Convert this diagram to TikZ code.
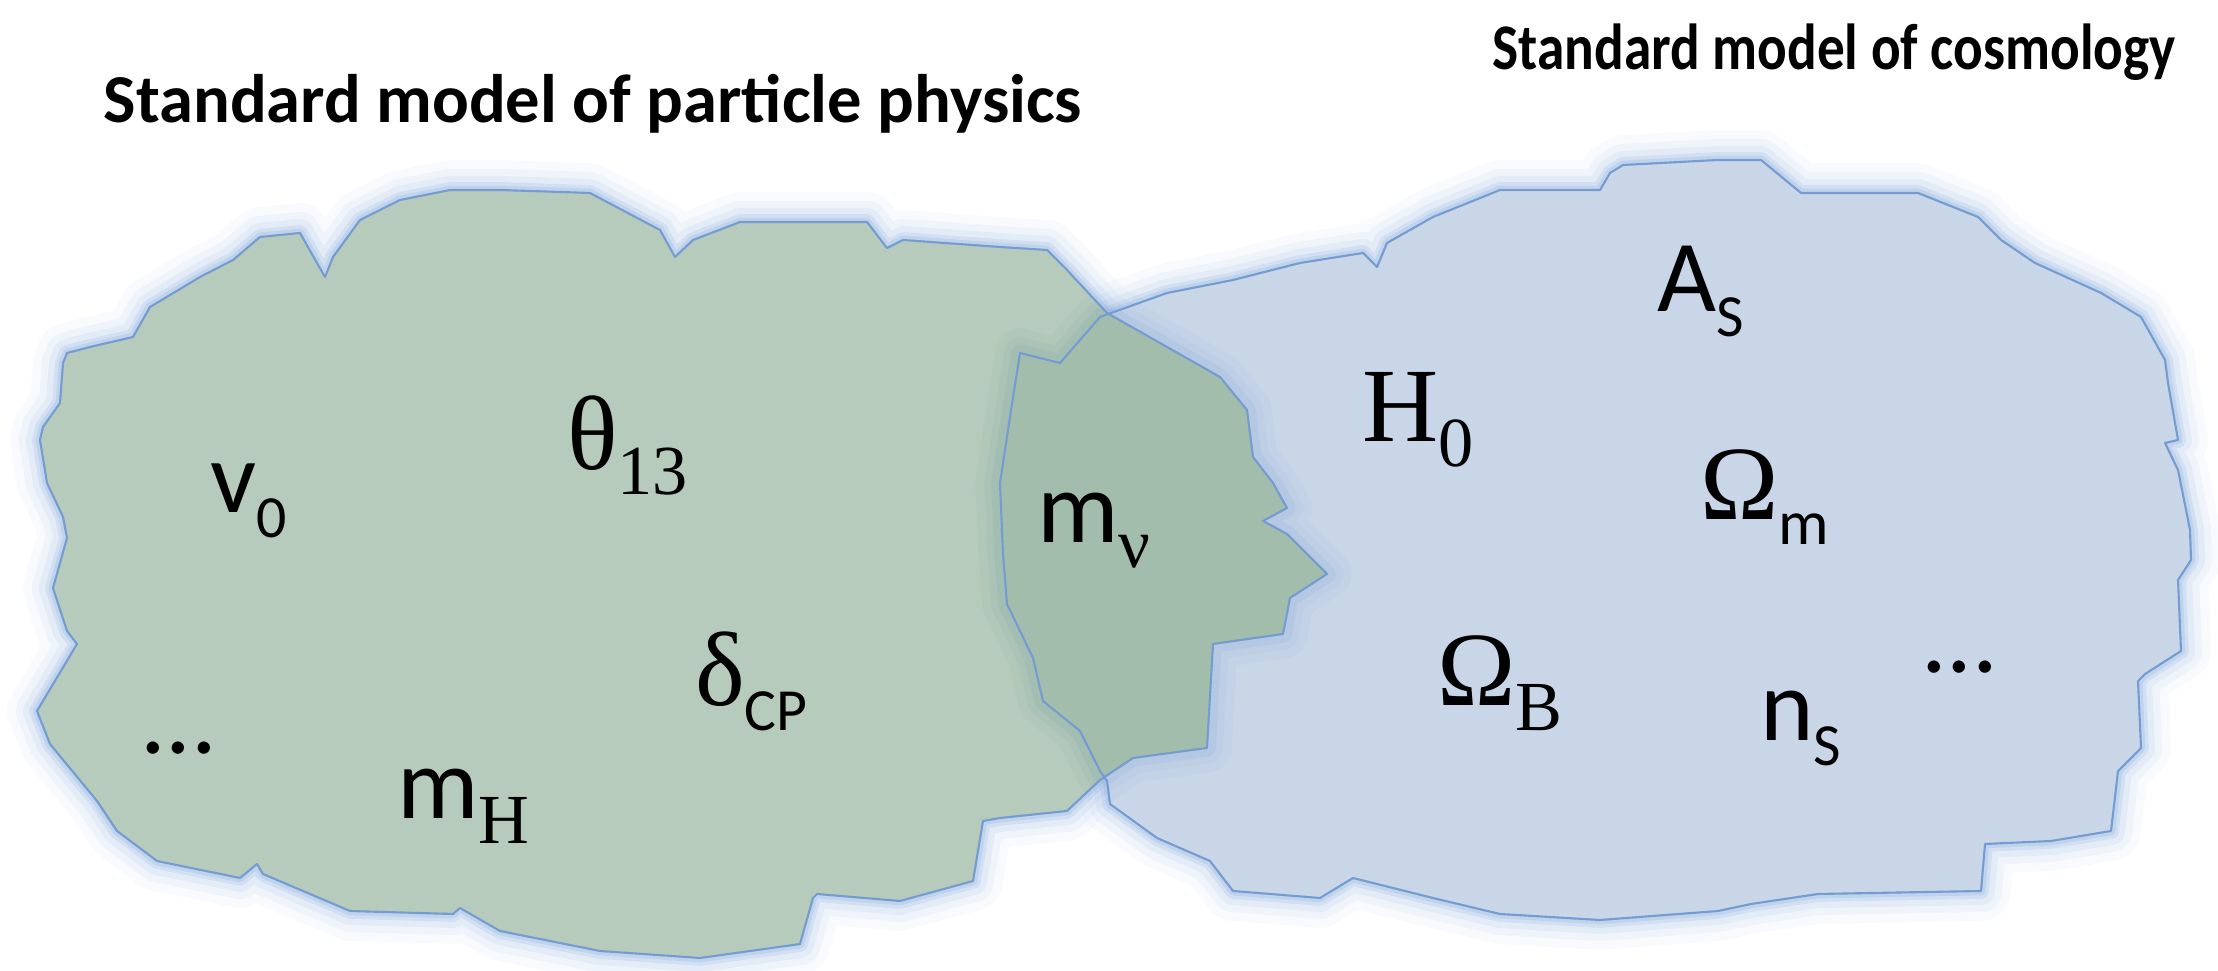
\documentclass[tikz,border=0pt]{standalone}
\usepackage{fontspec}
\usetikzlibrary{positioning}
\newfontfamily\calibfont{Carlito}
\newfontfamily\timesfont{Liberation Serif}

\definecolor{particlegreen}{RGB}{182,203,188}
\definecolor{overlapgreen}{RGB}{162,189,172}
\definecolor{cosmoblue}{RGB}{201,214,232}
\definecolor{rimblue}{RGB}{116,156,208}
\definecolor{glowblue}{RGB}{120,160,215}
\definecolor{shadegreen}{RGB}{105,150,150}

% outlines of the two clouds (pixel grid, y downwards)
\newcommand{\greenblob}{(63,363) -- (67,353) -- (90,347) -- (133,337) -- (150,307) -- (200,277) -- (233,260) -- (260,237) -- (300,233) -- (325,277) -- (333,257) -- (360,220) -- (400,200) -- (450,190) -- (500,190) -- (590,193) -- (660,230) -- (675,257) -- (693,240) -- (740,222) -- (867,222) -- (887,248) -- (903,240) -- (1000,247) -- (1047,250) -- (1067,270) -- (1107,313) -- (1167,347) -- (1220,377) -- (1247,410) -- (1253,457) -- (1273,483) -- (1287,508) -- (1263,521) -- (1287,534) -- (1327,574) -- (1290,598) -- (1283,634) -- (1213,644) -- (1207,748) -- (1133,758) -- (1100,780) -- (1067,811) -- (1000,818) -- (983,821) -- (973,881) -- (900,901) -- (817,894) -- (813,898) -- (800,944) -- (700,958) -- (600,951) -- (500,931) -- (460,908) -- (453,914) -- (350,911) -- (263,874) -- (257,864) -- (240,878) -- (157,861) -- (117,831) -- (97,801) -- (50,744) -- (37,711) -- (77,644) -- (67,631) -- (53,588) -- (67,538) -- (63,517) -- (47,483) -- (40,440) -- (43,427) -- (60,403) -- cycle}
\newcommand{\blueblob}{(1020,353) -- (1060,363) -- (1100,317) -- (1167,293) -- (1233,280) -- (1300,263) -- (1363,253) -- (1377,267) -- (1387,243) -- (1433,217) -- (1500,190) -- (1600,190) -- (1610,173) -- (1623,165) -- (1718,160) -- (1761,160) -- (1801,193) -- (1918,193) -- (1978,217) -- (2001,240) -- (2035,263) -- (2101,293) -- (2141,317) -- (2165,360) -- (2168,383) -- (2178,440) -- (2165,443) -- (2178,470) -- (2190,530) -- (2191,560) -- (2178,580) -- (2181,651) -- (2145,674) -- (2138,681) -- (2141,748) -- (2118,771) -- (2111,831) -- (2051,841) -- (1985,844) -- (1981,891) -- (1818,894) -- (1751,904) -- (1718,911) -- (1600,920) -- (1500,914) -- (1433,898) -- (1353,878) -- (1320,898) -- (1233,891) -- (1210,861) -- (1157,838) -- (1110,804) -- (1107,781) -- (1100,771) -- (1080,731) -- (1043,701) -- (1033,658) -- (1007,604) -- (1003,554) -- (1000,483) -- (1010,417) -- cycle}

\newcommand{\bigsans}{\calibfont\fontsize{29}{32}\selectfont}
\newcommand{\bigserif}{\timesfont\fontsize{30}{33}\selectfont}
\newcommand{\subsans}{\calibfont\fontsize{17}{19}\selectfont}
\newcommand{\subserif}{\timesfont\fontsize{20}{22}\selectfont}
\newcommand{\param}[2]{#1\raisebox{-7pt}{#2}}

\tikzset{
  paramlabel/.style={anchor=base west, inner sep=0pt, outer sep=0pt},
  titlelabel/.style={anchor=base west, inner sep=0pt, font=\calibfont\bfseries},
  rim/.style={rimblue, line width=0.6pt, line join=round}
}

\begin{document}
\begin{tikzpicture}[x=0.01cm, y=-0.01cm]
\useasboundingbox (0,0) rectangle (2218,971);

% soft halo round both clouds
\foreach \w/\o in {17/0.05, 12/0.07, 8/0.10, 4.5/0.16, 2.5/0.2} {
  \draw[glowblue, line width=\w pt, opacity=\o, line join=round] \greenblob;
  \draw[glowblue, line width=\w pt, opacity=\o, line join=round] \blueblob;
}

\fill[particlegreen] \greenblob;
\fill[cosmoblue] \blueblob;

% shading along each rim where it lies inside the other cloud
\begin{scope}
  \clip \greenblob;
  \foreach \w/\o in {14/0.06, 9/0.08, 5/0.12}
    \draw[shadegreen, line width=\w pt, opacity=\o, line join=round] \blueblob;
\end{scope}
\begin{scope}
  \clip \blueblob;
  \foreach \w/\o in {14/0.06, 9/0.08, 5/0.12}
    \draw[glowblue, line width=\w pt, opacity=\o, line join=round] \greenblob;
\end{scope}

% overlap
\begin{scope}
  \clip \greenblob;
  \fill[overlapgreen] \blueblob;
\end{scope}

\draw[rim] \greenblob;
\draw[rim] \blueblob;

% titles
\node[titlelabel, font=\calibfont\bfseries\fontsize{19.5}{22}\selectfont] (ppTitle) at (103,123) {Standard model of particle physics};
\node[titlelabel, font=\calibfont\bfseries\fontsize{18.5}{21}\selectfont] (cosmoTitle) at (1492,70) {\scalebox{0.85}[1]{Standard model of cosmology}};

% particle physics parameters
\node[paramlabel] (vev) at (210,513) {\param{\bigsans v}{\subsans 0}};
\node[paramlabel] (theta) at (567,470) {\param{\bigserif θ}{\subserif 13}};
\node[paramlabel] (deltaCP) at (695,706) {\param{\bigserif δ}{\subsans CP}};
\node[paramlabel] (mHiggs) at (397,819) {\param{\bigsans m}{\subserif H}};
\node[paramlabel] (ppMore) at (140,754) {\bigsans ...};

% shared parameter
\node[paramlabel] (mNu) at (1037,543) {\param{\bigsans m}{\subserif ν}};

% cosmology parameters
\node[paramlabel] (hubble) at (1362,442) {\param{\bigserif H}{\subserif 0}};
\node[paramlabel] (ampS) at (1657,312) {\param{\bigsans A}{\subsans S}};
\node[paramlabel] (omegaM) at (1700,520) {\param{\bigserif Ω}{\calibfont\fontsize{18}{20}\selectfont m}};
\node[paramlabel] (omegaB) at (1437,706) {\param{\bigserif Ω}{\subserif B}};
\node[paramlabel] (nS) at (1760,741) {\param{\bigsans n}{\subsans S}};
\node[paramlabel] (cosmoMore) at (1921,673) {\bigsans ...};
\end{tikzpicture}
\end{document}
